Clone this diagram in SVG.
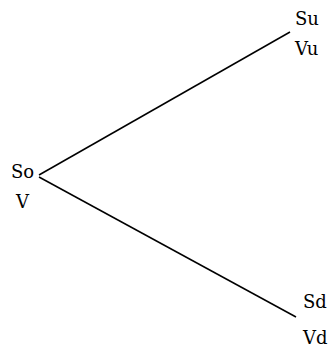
<svg xmlns="http://www.w3.org/2000/svg" width="333" height="350" viewBox="0 0 333 350">
<style>
text{font-family:"DejaVu Serif","Liberation Serif",serif;font-size:18px;fill:#000}
.c{stroke:#000;stroke-width:1.5;fill:none}
</style>
<rect width="333" height="350" fill="#fff"/>
<g id="connectors">
<line class="c" x1="39" y1="175" x2="290" y2="32"/>
<line class="c" x1="39" y1="177" x2="296" y2="317"/>
</g>
<g id="node-o"><text x="11" y="178">So</text><text x="16" y="208">V</text></g>
<g id="node-u"><text x="295" y="25">Su</text><text x="295" y="55">Vu</text></g>
<g id="node-d"><text x="303" y="308">Sd</text><text x="303" y="344">Vd</text></g>
</svg>
